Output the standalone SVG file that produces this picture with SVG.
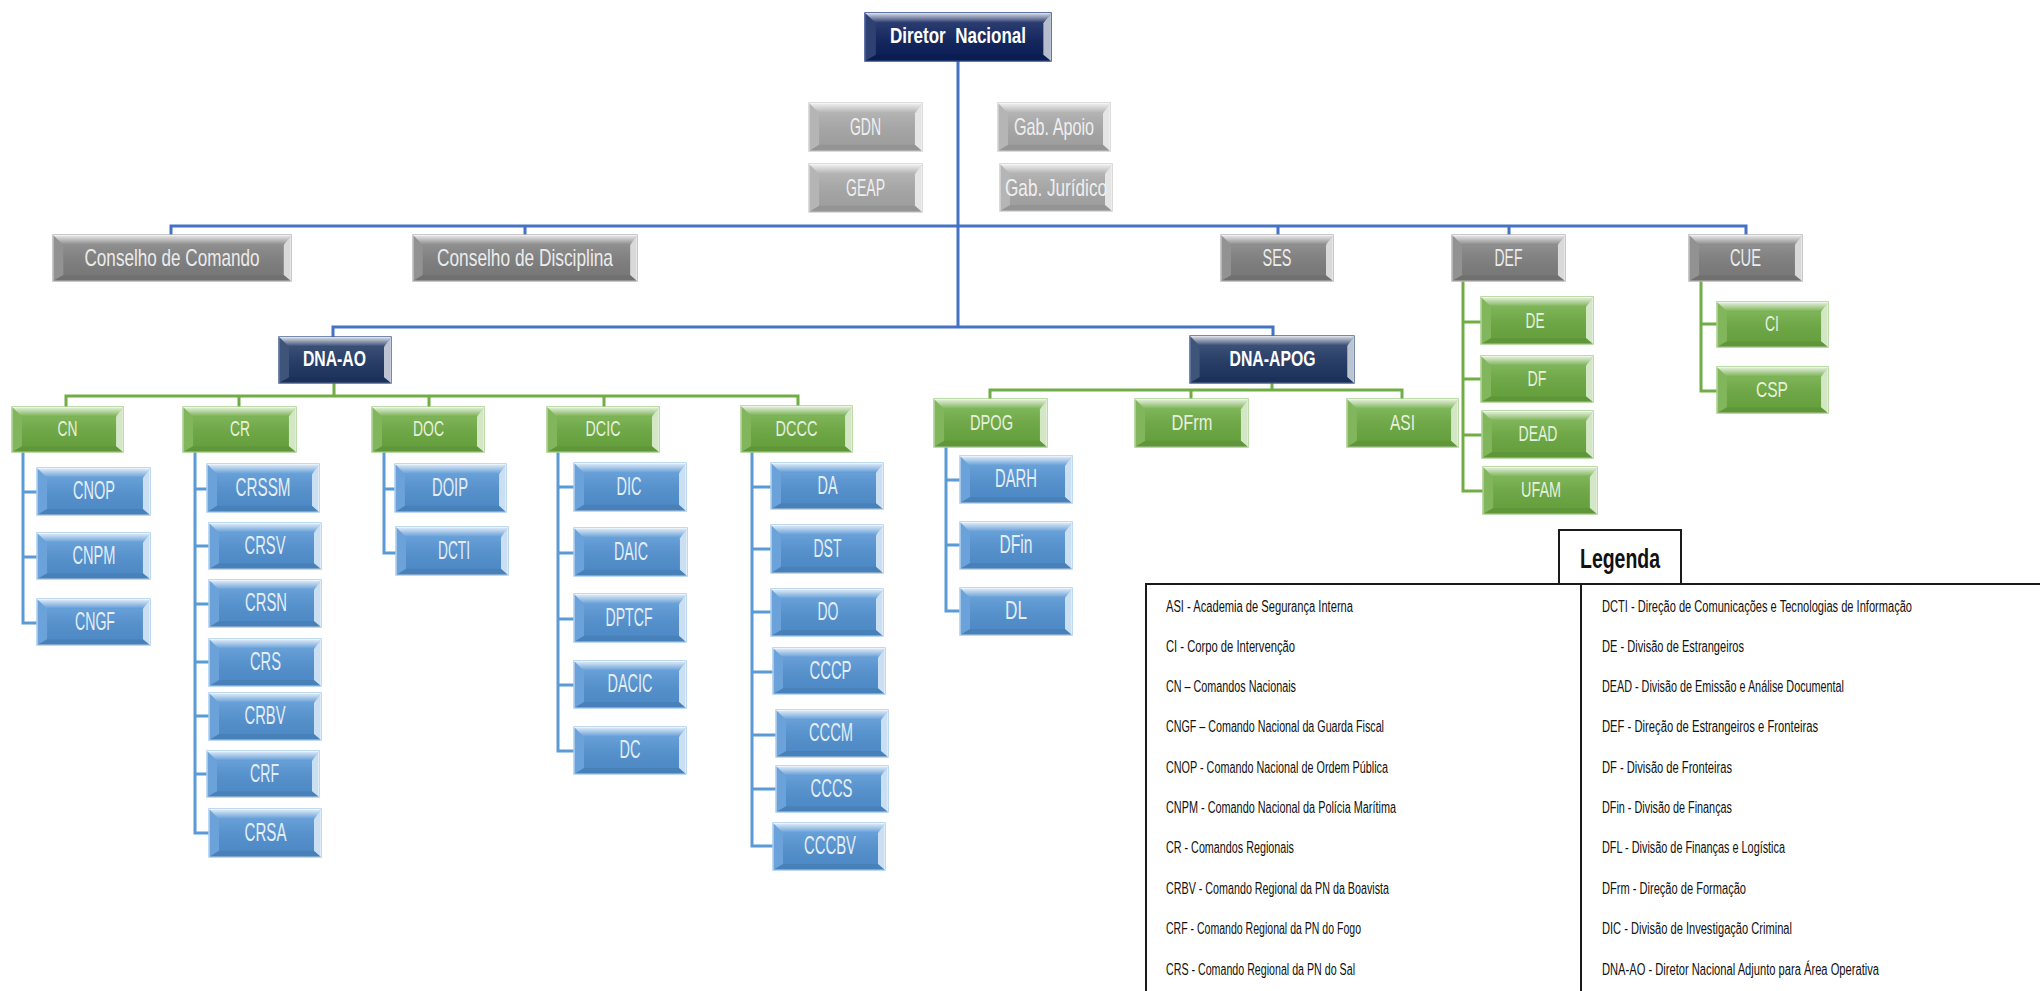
<svg xmlns="http://www.w3.org/2000/svg" width="2040" height="991" viewBox="0 0 2040 991">
<style>
text{font-family:"Liberation Sans Narrow","Liberation Sans",Arial,sans-serif;text-anchor:middle}
.node rect{stroke-width:1.5}
.node text{font-size:24px}
.dn rect{fill:#0d215c;stroke:#2c4a8c}
.dn text,.nv text{fill:#ffffff;font-weight:bold;font-size:22px}
.nv rect{fill:#203864;stroke:#4a6496}
.gd rect{fill:#808080;stroke:#b8b8b8}
.gd text{fill:#ececec;font-size:24px}
.gl rect{fill:#a9a9a9;stroke:#d0d0d0}
.gl text{fill:#efefef;font-size:24px}
.gr rect{fill:#6dab42;stroke:#a8d08d}
.gr text{fill:#e6f1dd;font-size:22px}
.bl rect{fill:#5393d3;stroke:#a9cdef}
.bl text{fill:#e3eef9;font-size:26px}
.conn path{fill:none;stroke-width:3}
.c-top{stroke:#4472c4}
.c-grn{stroke:#70ad47}
.c-blu{stroke:#5b9bd5}
.leg text{font-size:16px;fill:#111;text-anchor:start}
.leg .title{font-size:27px;font-weight:bold;text-anchor:middle}
.leg .frame{fill:none;stroke:#1a1a1a;stroke-width:2}
</style>
<defs>
<linearGradient id="gt" x1="0" y1="0" x2="0" y2="1">
<stop offset="0" stop-color="#fff" stop-opacity="0.85"/>
<stop offset="0.45" stop-color="#fff" stop-opacity="0.5"/>
<stop offset="1" stop-color="#fff" stop-opacity="0.08"/>
</linearGradient>
<linearGradient id="gf" x1="0" y1="0" x2="0" y2="1">
<stop offset="0" stop-color="#fff" stop-opacity="0.12"/>
<stop offset="1" stop-color="#000" stop-opacity="0.06"/>
</linearGradient>
<symbol id="bev" viewBox="0 0 112 47" preserveAspectRatio="none">
<rect x="10" y="10" width="95" height="31" fill="url(#gf)"/>
<polygon points="0,0 112,0 105,10 10,10" fill="url(#gt)"/>
<polygon points="0,0 10,10 10,41 0,47" fill="#fff" fill-opacity="0.14"/>
<polygon points="112,0 112,47 105,41 105,10" fill="#fff" fill-opacity="0.7"/>
<polygon points="0,47 112,47 105,41 10,41" fill="#000" fill-opacity="0.12"/>
</symbol>
<symbol id="bevM" viewBox="0 0 170 47" preserveAspectRatio="none">
<rect x="10" y="10" width="153" height="31" fill="url(#gf)"/>
<polygon points="0,0 170,0 163,10 10,10" fill="url(#gt)"/>
<polygon points="0,0 10,10 10,41 0,47" fill="#fff" fill-opacity="0.14"/>
<polygon points="170,0 170,47 163,41 163,10" fill="#fff" fill-opacity="0.7"/>
<polygon points="0,47 170,47 163,41 10,41" fill="#000" fill-opacity="0.12"/>
</symbol>
<symbol id="bevW" viewBox="0 0 230 46" preserveAspectRatio="none">
<rect x="10" y="10" width="213" height="30" fill="url(#gf)"/>
<polygon points="0,0 230,0 223,10 10,10" fill="url(#gt)"/>
<polygon points="0,0 10,10 10,40 0,46" fill="#fff" fill-opacity="0.14"/>
<polygon points="230,0 230,46 223,40 223,10" fill="#fff" fill-opacity="0.7"/>
<polygon points="0,46 230,46 223,40 10,40" fill="#000" fill-opacity="0.12"/>
</symbol>
</defs>
<rect width="2040" height="991" fill="#ffffff"/>

<g id="connectors" class="conn">
<path class="c-top" d="M958,61 V327 M171,235 V226 H1746 V235 M525,226 V235 M1278,226 V235 M1509,226 V235 M333,337 V327 H1273 V336"/>
<path class="c-grn" d="M334,383 V396 M66,407 V396 H798 V406 M239,396 V407 M429,396 V407 M604,396 V407"/>
<path class="c-grn" d="M1272,383 V390 M990,399 V390 H1402 V399 M1191,390 V399"/>
<path class="c-grn" d="M1463,281 V491 H1483 M1463,322 H1481 M1463,379 H1481 M1463,435 H1482"/>
<path class="c-grn" d="M1701,281 V391 H1717 M1701,324 H1717"/>
<path class="c-blu" d="M23,452 V623 H37 M23,492 H37 M23,557 H37"/>
<path class="c-blu" d="M195,452 V833 H209 M195,489 H207 M195,546 H209 M195,604 H209 M195,662 H209 M195,716 H209 M195,774 H207"/>
<path class="c-blu" d="M384,452 V553 H396 M384,489 H395"/>
<path class="c-blu" d="M558,452 V751 H574 M558,487 H574 M558,553 H574 M558,619 H574 M558,685 H574"/>
<path class="c-blu" d="M752,452 V846 H773 M752,487 H771 M752,549 H771 M752,612 H771 M752,672 H773 M752,735 H776 M752,789 H776"/>
<path class="c-blu" d="M946,447 V611 H960 M946,480 H960 M946,545 H960"/>
</g>

<g id="n-diretor" class="node dn"><rect x="865" y="13" width="186" height="48"/><use href="#bevM" x="865" y="13" width="186" height="48"/><text x="958" y="43" textLength="136" lengthAdjust="spacingAndGlyphs">Diretor&#160;&#160;Nacional</text></g>
<g id="n-gdn" class="node gl"><rect x="809" y="103" width="113" height="48"/><use href="#bev" x="809" y="103" width="113" height="48"/><text x="865.5" y="135" textLength="31" lengthAdjust="spacingAndGlyphs">GDN</text></g>
<g id="n-geap" class="node gl"><rect x="809" y="164" width="113" height="48"/><use href="#bev" x="809" y="164" width="113" height="48"/><text x="865.5" y="196" textLength="39" lengthAdjust="spacingAndGlyphs">GEAP</text></g>
<g id="n-gabapoio" class="node gl"><rect x="998" y="103" width="112" height="48"/><use href="#bev" x="998" y="103" width="112" height="48"/><text x="1054" y="135" textLength="80" lengthAdjust="spacingAndGlyphs">Gab. Apoio</text></g>
<g id="n-gabjur" class="node gl"><rect x="1000" y="164" width="112" height="47"/><use href="#bev" x="1000" y="164" width="112" height="47"/><text x="1056" y="196" textLength="102" lengthAdjust="spacingAndGlyphs">Gab. Jurídico</text></g>

<g id="n-cdc" class="node gd"><rect x="53" y="235" width="238" height="46"/><use href="#bevW" x="53" y="235" width="238" height="46"/><text x="172" y="266" textLength="175" lengthAdjust="spacingAndGlyphs">Conselho de Comando</text></g>
<g id="n-cdd" class="node gd"><rect x="413" y="235" width="224" height="46"/><use href="#bevW" x="413" y="235" width="224" height="46"/><text x="525" y="266" textLength="176" lengthAdjust="spacingAndGlyphs">Conselho de Disciplina</text></g>
<g id="n-ses" class="node gd"><rect x="1221" y="235" width="112" height="46"/><use href="#bev" x="1221" y="235" width="112" height="46"/><text x="1277" y="266" textLength="29" lengthAdjust="spacingAndGlyphs">SES</text></g>
<g id="n-def" class="node gd"><rect x="1452" y="235" width="113" height="46"/><use href="#bev" x="1452" y="235" width="113" height="46"/><text x="1508.5" y="266" textLength="28" lengthAdjust="spacingAndGlyphs">DEF</text></g>
<g id="n-cue" class="node gd"><rect x="1689" y="235" width="113" height="46"/><use href="#bev" x="1689" y="235" width="113" height="46"/><text x="1745.5" y="266" textLength="31" lengthAdjust="spacingAndGlyphs">CUE</text></g>

<g id="n-dnaao" class="node nv"><rect x="279" y="337" width="112" height="46"/><use href="#bev" x="279" y="337" width="112" height="46"/><text x="334.5" y="366" textLength="63" lengthAdjust="spacingAndGlyphs">DNA-AO</text></g>
<g id="n-dnaapog" class="node nv"><rect x="1190" y="336" width="164" height="47"/><use href="#bevM" x="1190" y="336" width="164" height="47"/><text x="1272.5" y="366" textLength="86" lengthAdjust="spacingAndGlyphs">DNA-APOG</text></g>

<g id="n-cn" class="node gr"><rect x="12" y="407" width="111" height="45"/><use href="#bev" x="12" y="407" width="111" height="45"/><text x="67.5" y="436" textLength="20" lengthAdjust="spacingAndGlyphs">CN</text></g>
<g id="n-cr" class="node gr"><rect x="183" y="407" width="113" height="45"/><use href="#bev" x="183" y="407" width="113" height="45"/><text x="240" y="436" textLength="20" lengthAdjust="spacingAndGlyphs">CR</text></g>
<g id="n-doc" class="node gr"><rect x="372" y="407" width="112" height="45"/><use href="#bev" x="372" y="407" width="112" height="45"/><text x="428.5" y="436" textLength="31" lengthAdjust="spacingAndGlyphs">DOC</text></g>
<g id="n-dcic" class="node gr"><rect x="547" y="407" width="112" height="45"/><use href="#bev" x="547" y="407" width="112" height="45"/><text x="603" y="436" textLength="35" lengthAdjust="spacingAndGlyphs">DCIC</text></g>
<g id="n-dccc" class="node gr"><rect x="741" y="406" width="111" height="46"/><use href="#bev" x="741" y="406" width="111" height="46"/><text x="796.5" y="436" textLength="42" lengthAdjust="spacingAndGlyphs">DCCC</text></g>
<g id="n-dpog" class="node gr"><rect x="934" y="399" width="113" height="48"/><use href="#bev" x="934" y="399" width="113" height="48"/><text x="991.5" y="430" textLength="43" lengthAdjust="spacingAndGlyphs">DPOG</text></g>
<g id="n-dfrm" class="node gr"><rect x="1135" y="399" width="113" height="48"/><use href="#bev" x="1135" y="399" width="113" height="48"/><text x="1192" y="430" textLength="41" lengthAdjust="spacingAndGlyphs">DFrm</text></g>
<g id="n-asi" class="node gr"><rect x="1347" y="399" width="111" height="48"/><use href="#bev" x="1347" y="399" width="111" height="48"/><text x="1402.5" y="430" textLength="25" lengthAdjust="spacingAndGlyphs">ASI</text></g>
<g id="n-de" class="node gr"><rect x="1481" y="297" width="112" height="47"/><use href="#bev" x="1481" y="297" width="112" height="47"/><text x="1535" y="328" textLength="19" lengthAdjust="spacingAndGlyphs">DE</text></g>
<g id="n-df" class="node gr"><rect x="1481" y="356" width="112" height="46"/><use href="#bev" x="1481" y="356" width="112" height="46"/><text x="1537" y="386" textLength="19" lengthAdjust="spacingAndGlyphs">DF</text></g>
<g id="n-dead" class="node gr"><rect x="1482" y="411" width="111" height="47"/><use href="#bev" x="1482" y="411" width="111" height="47"/><text x="1538" y="441" textLength="39" lengthAdjust="spacingAndGlyphs">DEAD</text></g>
<g id="n-ufam" class="node gr"><rect x="1483" y="467" width="114" height="47"/><use href="#bev" x="1483" y="467" width="114" height="47"/><text x="1541" y="497" textLength="40" lengthAdjust="spacingAndGlyphs">UFAM</text></g>
<g id="n-ci" class="node gr"><rect x="1717" y="302" width="111" height="45"/><use href="#bev" x="1717" y="302" width="111" height="45"/><text x="1772" y="331" textLength="14" lengthAdjust="spacingAndGlyphs">CI</text></g>
<g id="n-csp" class="node gr"><rect x="1717" y="367" width="111" height="46"/><use href="#bev" x="1717" y="367" width="111" height="46"/><text x="1772" y="397" textLength="32" lengthAdjust="spacingAndGlyphs">CSP</text></g>

<g id="n-cnop" class="node bl"><rect x="37" y="468" width="113" height="47"/><use href="#bev" x="37" y="468" width="113" height="47"/><text x="94" y="499" textLength="42" lengthAdjust="spacingAndGlyphs">CNOP</text></g>
<g id="n-cnpm" class="node bl"><rect x="37" y="533" width="113" height="46"/><use href="#bev" x="37" y="533" width="113" height="46"/><text x="94" y="563.5" textLength="43" lengthAdjust="spacingAndGlyphs">CNPM</text></g>
<g id="n-cngf" class="node bl"><rect x="37" y="599" width="113" height="46"/><use href="#bev" x="37" y="599" width="113" height="46"/><text x="95" y="629.5" textLength="40" lengthAdjust="spacingAndGlyphs">CNGF</text></g>

<g id="n-crssm" class="node bl"><rect x="207" y="464" width="112" height="48"/><use href="#bev" x="207" y="464" width="112" height="48"/><text x="263" y="495.5" textLength="55" lengthAdjust="spacingAndGlyphs">CRSSM</text></g>
<g id="n-crsv" class="node bl"><rect x="209" y="523" width="112" height="46"/><use href="#bev" x="209" y="523" width="112" height="46"/><text x="265" y="553.5" textLength="41" lengthAdjust="spacingAndGlyphs">CRSV</text></g>
<g id="n-crsn" class="node bl"><rect x="209" y="580" width="112" height="47"/><use href="#bev" x="209" y="580" width="112" height="47"/><text x="266" y="611" textLength="42" lengthAdjust="spacingAndGlyphs">CRSN</text></g>
<g id="n-crs" class="node bl"><rect x="209" y="639" width="112" height="47"/><use href="#bev" x="209" y="639" width="112" height="47"/><text x="265.5" y="670" textLength="31" lengthAdjust="spacingAndGlyphs">CRS</text></g>
<g id="n-crbv" class="node bl"><rect x="209" y="693" width="112" height="47"/><use href="#bev" x="209" y="693" width="112" height="47"/><text x="265" y="724" textLength="41" lengthAdjust="spacingAndGlyphs">CRBV</text></g>
<g id="n-crf" class="node bl"><rect x="207" y="751" width="112" height="46"/><use href="#bev" x="207" y="751" width="112" height="46"/><text x="264.5" y="781.5" textLength="29" lengthAdjust="spacingAndGlyphs">CRF</text></g>
<g id="n-crsa" class="node bl"><rect x="209" y="809" width="112" height="48"/><use href="#bev" x="209" y="809" width="112" height="48"/><text x="265.5" y="840.5" textLength="42" lengthAdjust="spacingAndGlyphs">CRSA</text></g>

<g id="n-doip" class="node bl"><rect x="395" y="464" width="111" height="48"/><use href="#bev" x="395" y="464" width="111" height="48"/><text x="450" y="495.5" textLength="36" lengthAdjust="spacingAndGlyphs">DOIP</text></g>
<g id="n-dcti" class="node bl"><rect x="396" y="527" width="112" height="48"/><use href="#bev" x="396" y="527" width="112" height="48"/><text x="454" y="558.5" textLength="32" lengthAdjust="spacingAndGlyphs">DCTI</text></g>

<g id="n-dic" class="node bl"><rect x="574" y="463" width="112" height="48"/><use href="#bev" x="574" y="463" width="112" height="48"/><text x="629" y="494.5" textLength="25" lengthAdjust="spacingAndGlyphs">DIC</text></g>
<g id="n-daic" class="node bl"><rect x="574" y="528" width="113" height="48"/><use href="#bev" x="574" y="528" width="113" height="48"/><text x="631" y="559.5" textLength="34" lengthAdjust="spacingAndGlyphs">DAIC</text></g>
<g id="n-dptcf" class="node bl"><rect x="574" y="594" width="112" height="48"/><use href="#bev" x="574" y="594" width="112" height="48"/><text x="629" y="625.5" textLength="47" lengthAdjust="spacingAndGlyphs">DPTCF</text></g>
<g id="n-dacic" class="node bl"><rect x="574" y="661" width="112" height="47"/><use href="#bev" x="574" y="661" width="112" height="47"/><text x="630" y="692" textLength="45" lengthAdjust="spacingAndGlyphs">DACIC</text></g>
<g id="n-dc" class="node bl"><rect x="574" y="727" width="112" height="47"/><use href="#bev" x="574" y="727" width="112" height="47"/><text x="630" y="758" textLength="21" lengthAdjust="spacingAndGlyphs">DC</text></g>

<g id="n-da" class="node bl"><rect x="771" y="463" width="112" height="46"/><use href="#bev" x="771" y="463" width="112" height="46"/><text x="827.5" y="493.5" textLength="20" lengthAdjust="spacingAndGlyphs">DA</text></g>
<g id="n-dst" class="node bl"><rect x="771" y="525" width="112" height="48"/><use href="#bev" x="771" y="525" width="112" height="48"/><text x="827.5" y="556.5" textLength="28" lengthAdjust="spacingAndGlyphs">DST</text></g>
<g id="n-do" class="node bl"><rect x="771" y="589" width="112" height="47"/><use href="#bev" x="771" y="589" width="112" height="47"/><text x="828" y="620" textLength="21" lengthAdjust="spacingAndGlyphs">DO</text></g>
<g id="n-cccp" class="node bl"><rect x="773" y="648" width="112" height="46"/><use href="#bev" x="773" y="648" width="112" height="46"/><text x="830.5" y="678.5" textLength="42" lengthAdjust="spacingAndGlyphs">CCCP</text></g>
<g id="n-cccm" class="node bl"><rect x="776" y="710" width="112" height="47"/><use href="#bev" x="776" y="710" width="112" height="47"/><text x="831" y="741" textLength="44" lengthAdjust="spacingAndGlyphs">CCCM</text></g>
<g id="n-cccs" class="node bl"><rect x="776" y="766" width="112" height="46"/><use href="#bev" x="776" y="766" width="112" height="46"/><text x="831.5" y="796.5" textLength="42" lengthAdjust="spacingAndGlyphs">CCCS</text></g>
<g id="n-cccbv" class="node bl"><rect x="773" y="823" width="112" height="47"/><use href="#bev" x="773" y="823" width="112" height="47"/><text x="830" y="854" textLength="52" lengthAdjust="spacingAndGlyphs">CCCBV</text></g>

<g id="n-darh" class="node bl"><rect x="960" y="456" width="112" height="47"/><use href="#bev" x="960" y="456" width="112" height="47"/><text x="1016" y="487" textLength="42" lengthAdjust="spacingAndGlyphs">DARH</text></g>
<g id="n-dfin" class="node bl"><rect x="960" y="522" width="112" height="47"/><use href="#bev" x="960" y="522" width="112" height="47"/><text x="1016" y="553" textLength="33" lengthAdjust="spacingAndGlyphs">DFin</text></g>
<g id="n-dl" class="node bl"><rect x="960" y="588" width="112" height="47"/><use href="#bev" x="960" y="588" width="112" height="47"/><text x="1016" y="619" textLength="22" lengthAdjust="spacingAndGlyphs">DL</text></g>

<g id="legend" class="leg">
<rect x="1559" y="530" width="122" height="54" fill="#fff" class="frame"/>
<text class="title" x="1620" y="568" textLength="80" lengthAdjust="spacingAndGlyphs">Legenda</text>
<path class="frame" d="M1146,995 V584 H2045 M1581,584 V995"/>
<text x="1166" y="612" textLength="187" lengthAdjust="spacingAndGlyphs">ASI - Academia de Segurança Interna</text>
<text x="1166" y="652" textLength="129" lengthAdjust="spacingAndGlyphs">CI - Corpo de Intervenção</text>
<text x="1166" y="692" textLength="130" lengthAdjust="spacingAndGlyphs">CN – Comandos Nacionais</text>
<text x="1166" y="732" textLength="218" lengthAdjust="spacingAndGlyphs">CNGF – Comando Nacional da Guarda Fiscal</text>
<text x="1166" y="773" textLength="222" lengthAdjust="spacingAndGlyphs">CNOP - Comando Nacional de Ordem Pública</text>
<text x="1166" y="813" textLength="230" lengthAdjust="spacingAndGlyphs">CNPM - Comando Nacional da Polícia Marítima</text>
<text x="1166" y="853" textLength="128" lengthAdjust="spacingAndGlyphs">CR - Comandos Regionais</text>
<text x="1166" y="894" textLength="223" lengthAdjust="spacingAndGlyphs">CRBV - Comando Regional da PN da Boavista</text>
<text x="1166" y="934" textLength="195" lengthAdjust="spacingAndGlyphs">CRF - Comando Regional da PN do Fogo</text>
<text x="1166" y="975" textLength="189" lengthAdjust="spacingAndGlyphs">CRS - Comando Regional da PN do Sal</text>
<text x="1602" y="612" textLength="310" lengthAdjust="spacingAndGlyphs">DCTI - Direção de Comunicações e Tecnologias de Informação</text>
<text x="1602" y="652" textLength="142" lengthAdjust="spacingAndGlyphs">DE - Divisão de Estrangeiros</text>
<text x="1602" y="692" textLength="242" lengthAdjust="spacingAndGlyphs">DEAD - Divisão de Emissão e Análise Documental</text>
<text x="1602" y="732" textLength="216" lengthAdjust="spacingAndGlyphs">DEF - Direção de Estrangeiros e Fronteiras</text>
<text x="1602" y="773" textLength="130" lengthAdjust="spacingAndGlyphs">DF - Divisão de Fronteiras</text>
<text x="1602" y="813" textLength="130" lengthAdjust="spacingAndGlyphs">DFin - Divisão de Finanças</text>
<text x="1602" y="853" textLength="183" lengthAdjust="spacingAndGlyphs">DFL - Divisão de Finanças e Logística</text>
<text x="1602" y="894" textLength="144" lengthAdjust="spacingAndGlyphs">DFrm - Direção de Formação</text>
<text x="1602" y="934" textLength="190" lengthAdjust="spacingAndGlyphs">DIC - Divisão de Investigação Criminal</text>
<text x="1602" y="975" textLength="277" lengthAdjust="spacingAndGlyphs">DNA-AO - Diretor Nacional Adjunto para Área Operativa</text>
</g>
</svg>
